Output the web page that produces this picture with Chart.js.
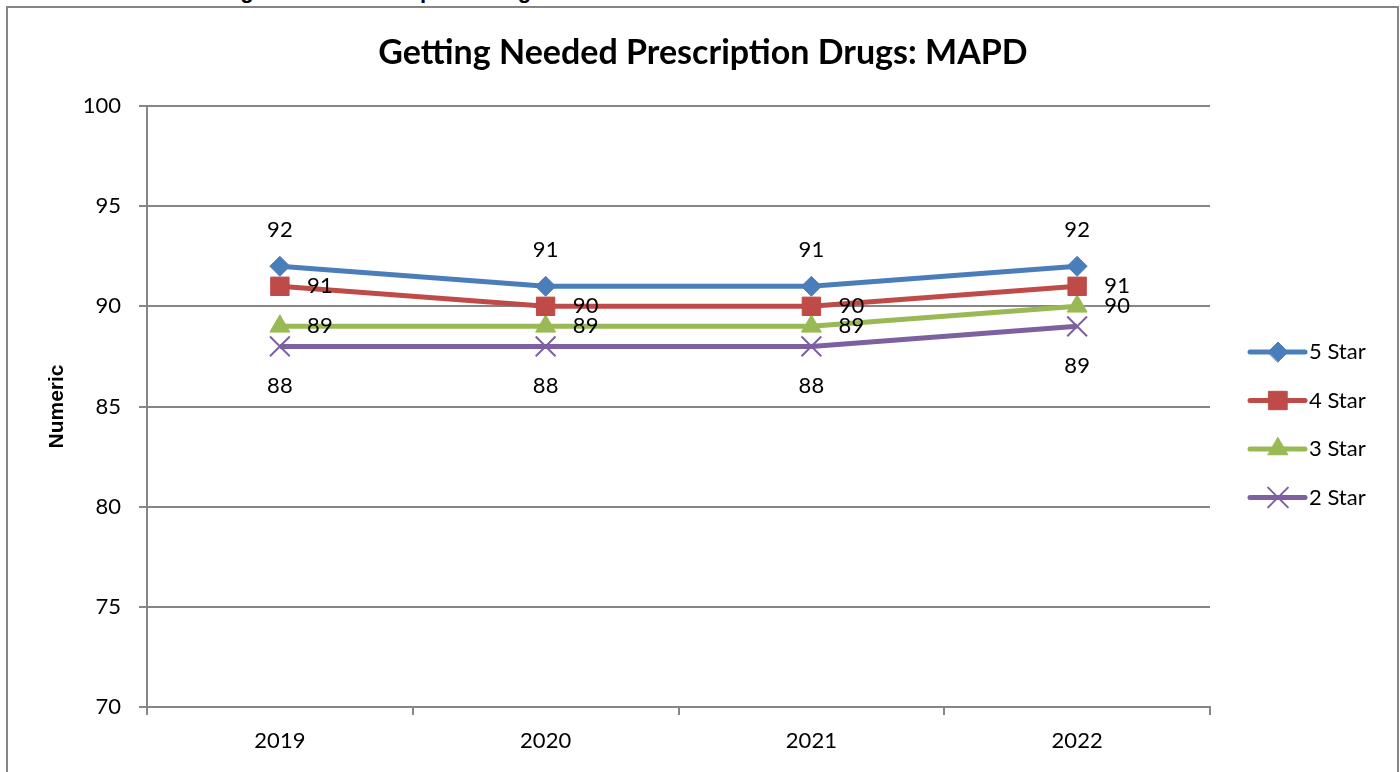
<!DOCTYPE html>
<html>
<head>
<meta charset="utf-8">
<script src="https://cdn.jsdelivr.net/npm/chart.js@4"></script>
<style>
  body { margin: 0; width: 1400px; height: 772px; overflow: hidden; background: #fff; position: relative; }
  #frame { position: absolute; left: 6px; top: 6px; width: 1389px; height: 820px; border: 2px solid #858585; }
  #cut { position: absolute; left: 14px; top: -20px; font: bold 22px "Liberation Sans", Arial, sans-serif; line-height: 22px; white-space: nowrap; color: #000; }
  #myChart { position: absolute; left: 0; top: 0; }
</style>
</head>
<body>
<div id="cut">Measure: D10 - Getting Needed Prescription Drugs</div>
<div id="frame"></div>
<canvas id="myChart" width="1400" height="772"></canvas>
<script>
const anos = ['2019', '2020', '2021', '2022'];
const star5 = [92, 91, 91, 92];
const star4 = [91, 90, 90, 91];
const star3 = [89, 89, 89, 90];
const star2 = [88, 88, 88, 89];
const yMin = 70, yMax = 100, yStep = 5;

const titulo = 'Getting Needed Prescription Drugs: MAPD';
const fonte = "Lato, 'Noto Sans', sans-serif";

// rótulos de dados: posição em relação ao ponto
const posRotulo = { top: [0, -36], right: [40, 0], bottom: [0, 40] };

// título centrado no canvas inteiro (o do Chart.js fica centrado na área com padding)
const tituloPlugin = {
    id: 'tituloPlugin',
    afterDraw(chart) {
        const ctx = chart.ctx;
        ctx.save();
        ctx.font = "bold 34px " + fonte;
        ctx.fillStyle = "#000";
        ctx.textAlign = "center";
        ctx.textBaseline = "middle";
        ctx.fillText(titulo, chart.width / 2 + 3, 53);
        ctx.restore();
    }
};

const rotulos = {
    id: 'rotulos',
    afterDatasetsDraw(chart) {
        const ctx = chart.ctx;
        ctx.save();
        ctx.font = "22px " + fonte;
        ctx.fillStyle = "#000";
        ctx.textAlign = "center";
        ctx.textBaseline = "middle";
        chart.data.datasets.forEach((ds, i) => {
            const meta = chart.getDatasetMeta(i);
            const d = posRotulo[ds.labelPos];
            meta.data.forEach((p, j) => {
                ctx.fillText(String(ds.data[j]), p.x + d[0], p.y + d[1]);
            });
        });
        ctx.restore();
    }
};

const legenda = {
    id: 'legenda',
    afterDraw(chart) {
        const ctx = chart.ctx;
        const area = chart.chartArea;
        const x0 = area.right + 40;
        let y = area.top + 246;
        chart.data.datasets.forEach((ds) => {
            ctx.save();
            ctx.strokeStyle = ds.borderColor;
            ctx.lineWidth = 5;
            ctx.lineCap = "round";
            ctx.beginPath();
            ctx.moveTo(x0, y);
            ctx.lineTo(x0 + 55, y);
            ctx.stroke();
            ctx.fillStyle = ds.pointBackgroundColor;
            ctx.strokeStyle = ds.pointBorderColor;
            ctx.lineWidth = ds.pointBorderWidth;
            Chart.helpers.drawPoint(ctx, {
                pointStyle: ds.pointStyle,
                radius: ds.pointRadius,
                borderWidth: ds.pointBorderWidth,
                rotation: 0
            }, x0 + 28, y);
            ctx.font = "22px " + fonte;
            ctx.fillStyle = "#000";
            ctx.textAlign = "left";
            ctx.textBaseline = "middle";
            ctx.fillText(ds.label, x0 + 59, y);
            ctx.restore();
            y += 48.5;
        });
    }
};

function serie(label, data, cor, estilo, raio, borda, pos) {
    return {
        label: label,
        data: data,
        borderColor: cor,
        backgroundColor: cor,
        borderWidth: 5,
        tension: 0,
        pointStyle: estilo,
        pointRadius: raio,
        pointHoverRadius: raio,
        pointBackgroundColor: cor,
        pointBorderColor: cor,
        pointBorderWidth: borda,
        labelPos: pos
    };
}

new Chart(document.getElementById('myChart'), {
    type: 'line',
    data: {
        labels: anos,
        datasets: [
            serie('5 Star', star5, '#4a7ebb', 'rectRot', 10, 1, 'top'),
            serie('4 Star', star4, '#be4b48', 'rect', 13, 1, 'right'),
            serie('3 Star', star3, '#98b954', 'triangle', 11.5, 1, 'right'),
            serie('2 Star', star2, '#7d60a0', 'crossRot', 14, 2, 'bottom')
        ]
    },
    options: {
        responsive: false,
        animation: false,
        devicePixelRatio: 1,
        layout: { padding: { left: 40, right: 190, top: 106, bottom: 0 } },
        plugins: {
            legend: { display: false },
            tooltip: { enabled: false },
            title: { display: false }
        },
        scales: {
            x: {
                offset: true,
                afterFit: (s) => { s.height = 65; },
                grid: { drawOnChartArea: false, offset: true, tickLength: 8, color: '#868686', lineWidth: 2 },
                border: { display: true, color: '#868686', width: 2 },
                ticks: { color: '#000', padding: 13, font: { family: fonte, size: 22 } }
            },
            y: {
                min: yMin,
                max: yMax,
                afterFit: (s) => { s.width = 107; },
                grid: { color: '#868686', lineWidth: 2, tickLength: 8 },
                border: { display: true, color: '#868686', width: 2 },
                ticks: { stepSize: yStep, color: '#000', padding: 18, font: { family: fonte, size: 22 } },
                title: {
                    display: true,
                    text: 'Numeric',
                    color: '#000',
                    padding: { top: 5, bottom: 5 },
                    font: { family: "'Liberation Sans', Arial, sans-serif", size: 21, weight: 'bold' }
                }
            }
        }
    },
    plugins: [rotulos, legenda, tituloPlugin]
});
</script>
</body>
</html>
